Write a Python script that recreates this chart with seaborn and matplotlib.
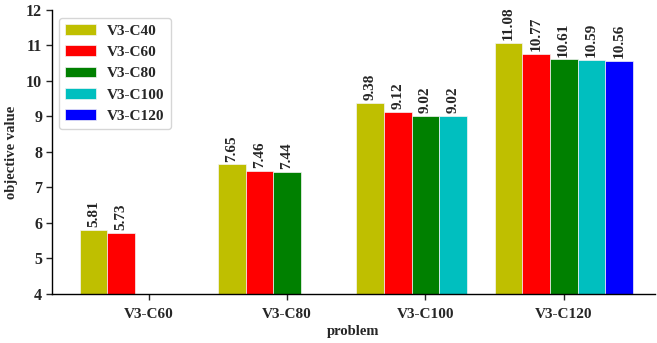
import numpy as np
import pandas as pd
import matplotlib
matplotlib.use("Agg")
import matplotlib.pyplot as plt
import seaborn as sns

problems = ["V3-C60", "V3-C80", "V3-C100", "V3-C120"]
series = ["V3-C40", "V3-C60", "V3-C80", "V3-C100", "V3-C120"]
c40 = [5.81, 7.65, 9.38, 11.08]
c60 = [5.73, 7.46, 9.12, 10.77]
c80 = [np.nan, 7.44, 9.02, 10.61]
c100 = [np.nan, np.nan, 9.02, 10.59]
c120 = [np.nan, np.nan, np.nan, 10.56]
colors = ["#bfbf00", "#ff0000", "#008000", "#00bfbf", "#0000ff"]

rows = []
for name, vals in zip(series, [c40, c60, c80, c100, c120]):
    for p, v in zip(problems, vals):
        rows.append({"problem": p, "series": name, "value": v})
df = pd.DataFrame(rows).dropna()

sns.set_style("ticks")
plt.rcParams["font.family"] = ["Liberation Serif", "DejaVu Serif"]
plt.rcParams["font.weight"] = "bold"

fig = plt.figure(figsize=(6.57, 3.43), dpi=100)
ax = fig.add_axes([0.079, 0.143, 0.918, 0.828])

sns.barplot(
    data=df, x="problem", y="value", hue="series",
    order=problems, hue_order=series, palette=colors,
    saturation=1, width=1.0, errorbar=None, ax=ax,
    edgecolor="#f4f4f4", linewidth=0.5,
)

for cont in ax.containers:
    ax.bar_label(cont, fmt="%.2f", rotation=90, padding=2,
                 fontsize=11, fontweight="bold")

ax.set_ylim(4, 12)
ax.set_xlim(-0.7, 3.66)
ax.set_xlabel("problem", fontsize=10.5, fontweight="bold", labelpad=3)
ax.set_ylabel("objective value", fontsize=10.5, fontweight="bold", labelpad=6)
ax.tick_params(axis="x", labelsize=11, length=4, width=1, pad=6)
ax.tick_params(axis="y", labelsize=11.5, length=4, width=1, pad=3)
for lbl in ax.get_xticklabels() + ax.get_yticklabels():
    lbl.set_fontweight("bold")
sns.despine(ax=ax)
for s in ["left", "bottom"]:
    ax.spines[s].set_color("black")
    ax.spines[s].set_linewidth(1)

ax.legend(loc="upper left", bbox_to_anchor=(0.012, 0.972), borderaxespad=0,
          frameon=True, prop={"size": 11, "weight": "bold"}, handlelength=2.0,
          labelspacing=0.5, borderpad=0.4, handletextpad=0.75,
          edgecolor="#cccccc", fancybox=True)

fig.savefig("out.png", dpi=100)
